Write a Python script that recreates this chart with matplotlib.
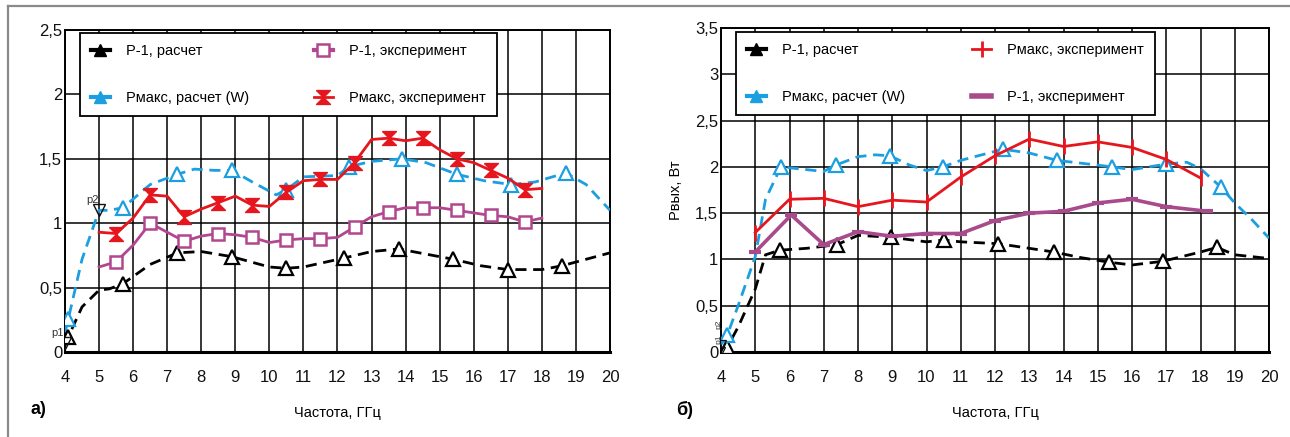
import numpy as np
import matplotlib
matplotlib.use('Agg')
import matplotlib.pyplot as plt
from matplotlib.lines import Line2D

# ─────────────────────────────────────────────
# fonts
# ─────────────────────────────────────────────
plt.rcParams['font.family'] = ['Liberation Sans', 'DejaVu Sans']
plt.rcParams['axes.unicode_minus'] = False

# ─────────────────────────────────────────────
# data, panel а)
# ─────────────────────────────────────────────
a_p1_calc_x = [4.0, 4.1, 4.5, 5.0, 5.3, 5.7, 6.5, 7.3, 8.0, 8.9, 10.0, 10.5, 11.0,
               12.2, 13.0, 13.8, 15.4, 16.2, 17.0, 18.0, 18.6, 19.3, 20.0]
a_p1_calc_y = [0.05, 0.12, 0.35, 0.48, 0.49, 0.53, 0.68, 0.77, 0.78, 0.74, 0.66, 0.65, 0.66,
               0.73, 0.78, 0.80, 0.72, 0.67, 0.64, 0.64, 0.67, 0.72, 0.77]
a_p1_calc_mx = [4.1, 5.7, 7.3, 8.9, 10.5, 12.2, 13.8, 15.4, 17.0, 18.6]
a_p1_calc_my = [0.12, 0.53, 0.77, 0.74, 0.65, 0.73, 0.80, 0.72, 0.64, 0.67]

a_pmax_calc_x = [4.0, 4.1, 4.5, 5.0, 5.3, 5.7, 6.5, 7.3, 7.8, 8.4, 8.9, 9.5, 10.2, 10.5,
                 11.0, 12.0, 12.35, 13.0, 13.9, 14.6, 15.5, 16.3, 17.1, 17.8, 18.7, 19.3, 20.0]
a_pmax_calc_y = [0.15, 0.26, 0.72, 1.10, 1.10, 1.12, 1.30, 1.38, 1.42, 1.41, 1.41, 1.32, 1.22, 1.26,
                 1.36, 1.37, 1.44, 1.48, 1.50, 1.47, 1.38, 1.33, 1.30, 1.32, 1.39, 1.30, 1.10]
a_pmax_calc_mx = [4.1, 5.7, 7.3, 8.9, 10.5, 12.35, 13.9, 15.5, 17.1, 18.7]
a_pmax_calc_my = [0.26, 1.12, 1.38, 1.41, 1.26, 1.44, 1.50, 1.38, 1.30, 1.39]

a_exp_x = [5.0, 5.5, 6.0, 6.5, 7.0, 7.5, 8.0, 8.5, 9.0, 9.5, 10.0, 10.5, 11.0, 11.5,
           12.0, 12.5, 13.0, 13.5, 14.0, 14.5, 15.0, 15.5, 16.0, 16.5, 17.0, 17.5, 18.0]
a_pmax_exp_y = [0.93, 0.92, 1.04, 1.22, 1.21, 1.05, 1.11, 1.16, 1.21, 1.14, 1.13, 1.24, 1.33, 1.34,
                1.34, 1.47, 1.65, 1.66, 1.64, 1.66, 1.57, 1.50, 1.47, 1.41, 1.35, 1.26, 1.27]
a_p1_exp_y = [0.66, 0.70, 0.83, 1.00, 0.93, 0.86, 0.90, 0.92, 0.91, 0.89, 0.85, 0.87, 0.88, 0.88,
              0.89, 0.97, 1.05, 1.09, 1.12, 1.12, 1.12, 1.10, 1.08, 1.06, 1.05, 1.01, 1.04]

a_yticks = [0, 0.5, 1, 1.5, 2, 2.5]
a_yticklabels = ['0', '0,5', '1', '1,5', '2', '2,5']

# ─────────────────────────────────────────────
# data, panel б)
# ─────────────────────────────────────────────
b_p1_calc_x = [4.0, 4.18, 4.5, 5.0, 5.3, 5.72, 6.5, 7.39, 8.0, 8.96, 10.0, 10.5, 11.0, 12.1,
               13.0, 13.72, 14.5, 15.33, 16.0, 16.9, 18.0, 18.48, 19.0, 20.0]
b_p1_calc_y = [0.0, 0.05, 0.27, 0.68, 1.05, 1.10, 1.12, 1.16, 1.26, 1.24, 1.19, 1.21, 1.19, 1.17,
               1.12, 1.08, 1.02, 0.97, 0.94, 0.98, 1.08, 1.13, 1.05, 1.01]
b_p1_calc_mx = [4.18, 5.72, 7.39, 8.96, 10.5, 12.1, 13.72, 15.33, 16.9, 18.48]
b_p1_calc_my = [0.05, 1.10, 1.16, 1.24, 1.21, 1.17, 1.08, 0.97, 0.98, 1.13]

b_pmax_calc_x = [4.0, 4.18, 4.5, 5.0, 5.3, 5.75, 6.5, 7.0, 7.36, 8.0, 8.5, 8.93, 9.5, 10.0,
                 10.48, 11.0, 12.23, 13.0, 13.81, 14.5, 15.42, 16.0, 17.0, 17.6, 18.0, 18.6,
                 19.0, 19.5, 20.0]
b_pmax_calc_y = [0.08, 0.18, 0.50, 1.03, 1.65, 2.00, 1.97, 1.95, 2.02, 2.11, 2.13, 2.12, 2.02, 1.96,
                 2.00, 2.07, 2.19, 2.15, 2.07, 2.04, 2.00, 1.97, 2.03, 2.05, 1.98, 1.78,
                 1.61, 1.43, 1.23]
b_pmax_calc_mx = [4.18, 5.75, 7.36, 8.93, 10.48, 12.23, 13.81, 15.42, 17.0, 18.6]
b_pmax_calc_my = [0.18, 2.00, 2.02, 2.12, 2.00, 2.19, 2.07, 2.00, 2.03, 1.78]

b_pmax_exp_x = [5.0, 6.0, 7.0, 8.0, 9.0, 10.0, 11.0, 12.0, 13.0, 14.0, 15.0, 16.0, 17.0, 18.0]
b_pmax_exp_y = [1.29, 1.65, 1.66, 1.57, 1.64, 1.62, 1.89, 2.12, 2.30, 2.22, 2.27, 2.21, 2.08, 1.88]

b_p1_exp_x = [5.0, 6.05, 7.0, 8.0, 9.0, 10.0, 11.0, 12.0, 13.0, 14.0, 15.0, 16.0, 17.0, 18.2]
b_p1_exp_y = [1.08, 1.48, 1.16, 1.30, 1.25, 1.28, 1.28, 1.42, 1.50, 1.52, 1.61, 1.65, 1.57, 1.52]

b_yticks = [0, 0.5, 1, 1.5, 2, 2.5, 3, 3.5]
b_yticklabels = ['0', '0,5', '1', '1,5', '2', '2,5', '3', '3,5']

xticks = list(range(4, 21))

# ─────────────────────────────────────────────
# colours / styles
# ─────────────────────────────────────────────
c_black = '#000000'
c_blue = '#1C9FE0'
c_red = '#E5161E'
c_pink = '#B2468F'
c_purple = '#A84A8C'

hourglass = [(-1, 1), (1, 1), (-1, -1), (1, -1), (-1, 1)]
dash = (4, 2.4)

# ─────────────────────────────────────────────
# figure
# ─────────────────────────────────────────────
fig = plt.figure(figsize=(12.9, 4.37), dpi=100)
ax1 = fig.add_axes([65 / 1290, 1 - 352 / 437, 545 / 1290, 322 / 437])
ax2 = fig.add_axes([721 / 1290, 1 - 352 / 437, 548 / 1290, 324 / 437])

# outer frame (top and left only)
fig.add_artist(Line2D([8 / 1290, 8 / 1290], [0, 1 - 6 / 437],
                      transform=fig.transFigure, color='#8A8A8A', lw=1.6))
fig.add_artist(Line2D([8 / 1290, 1], [1 - 6 / 437, 1 - 6 / 437],
                      transform=fig.transFigure, color='#8A8A8A', lw=1.6))


def style_axes(ax, ymax, yticks, yticklabels):
    ax.set_xlim(4, 20)
    ax.set_ylim(0, ymax)
    ax.set_xticks(xticks)
    ax.set_yticks(yticks)
    ax.set_yticklabels(yticklabels)
    ax.grid(True, color='black', lw=1.1)
    ax.set_axisbelow(True)
    ax.tick_params(axis='both', length=0, labelsize=12, colors='#111111')
    ax.tick_params(axis='x', pad=13)
    ax.tick_params(axis='y', pad=2)
    for s in ax.spines.values():
        s.set_linewidth(1.4)
    ax.spines['bottom'].set_linewidth(2.2)
    ax.set_xlabel('Частота, ГГц', fontsize=10.5, labelpad=15)


legend_kw = dict(ncol=2, loc='upper left', borderaxespad=0, fontsize=10.5,
                 labelspacing=2.3, handlelength=1.3, handletextpad=1.1,
                 borderpad=0.75, fancybox=False, framealpha=1, edgecolor='black')

# ─────────────────────────────────────────────
# panel а)
# ─────────────────────────────────────────────
style_axes(ax1, 2.5, a_yticks, a_yticklabels)

ax1.plot(a_p1_calc_x, a_p1_calc_y, color=c_black, lw=2.0, dashes=dash, zorder=3)
ax1.plot(a_p1_calc_mx, a_p1_calc_my, ls='none', marker='^', ms=10, mfc='white',
         mec=c_black, mew=1.6, zorder=4)

ax1.plot(a_pmax_calc_x, a_pmax_calc_y, color=c_blue, lw=2.0, dashes=dash, zorder=3)
ax1.plot(a_pmax_calc_mx, a_pmax_calc_my, ls='none', marker='^', ms=10, mfc='white',
         mec=c_blue, mew=1.6, zorder=4)

ax1.plot(a_exp_x, a_p1_exp_y, color=c_pink, lw=2.0, marker='s', ms=8, mfc='white',
         mec=c_pink, mew=1.8, markevery=slice(1, None, 2), zorder=5)
ax1.plot(a_exp_x, a_pmax_exp_y, color=c_red, lw=2.0, marker=hourglass, ms=10, mfc=c_red,
         mec=c_red, mew=1.0, markevery=slice(1, None, 2), zorder=5)

# p1 / p2 points
ax1.plot([4.0, 5.0], [0.07, 1.10], ls='none', marker='v', ms=8, mfc='none',
         mec='#111111', mew=1.0, zorder=6)
ax1.text(3.78, 0.15, 'p1', fontsize=8, color='#333333', ha='center', va='center')
ax1.text(4.8, 1.18, 'p2', fontsize=8, color='#333333', ha='center', va='center')

h_a = [
    Line2D([], [], color=c_black, lw=3, marker='^', ms=9, mfc=c_black, mec=c_black),
    Line2D([], [], color=c_blue, lw=3, marker='^', ms=9, mfc=c_blue, mec=c_blue),
    Line2D([], [], color=c_pink, lw=3, marker='s', ms=8, mfc='white', mec=c_pink, mew=1.8),
    Line2D([], [], color=c_red, lw=2, marker=hourglass, ms=10, mfc=c_red, mec=c_red),
]
l_a = ['Р-1, расчет', 'Рмакс, расчет (W)', 'Р-1, эксперимент', 'Рмакс, эксперимент']
leg = ax1.legend(h_a, l_a, bbox_to_anchor=(15 / 545, 319 / 322), columnspacing=4.45,
                 **legend_kw)
leg.get_frame().set_linewidth(1.3)

fig.text(38 / 1290, 1 - 410 / 437, 'а)', fontsize=13, fontweight='bold',
         ha='center', va='center')

# ─────────────────────────────────────────────
# panel б)
# ─────────────────────────────────────────────
style_axes(ax2, 3.5, b_yticks, b_yticklabels)
ax2.set_ylabel('Рвых, Вт', fontsize=10.5, labelpad=9)

ax2.plot(b_p1_calc_x, b_p1_calc_y, color=c_black, lw=2.0, dashes=dash, zorder=3)
ax2.plot(b_p1_calc_mx, b_p1_calc_my, ls='none', marker='^', ms=10, mfc='white',
         mec=c_black, mew=1.6, zorder=4)

ax2.plot(b_pmax_calc_x, b_pmax_calc_y, color=c_blue, lw=2.0, dashes=dash, zorder=3)
ax2.plot(b_pmax_calc_mx, b_pmax_calc_my, ls='none', marker='^', ms=10, mfc='white',
         mec=c_blue, mew=1.6, zorder=4)

ax2.plot(b_p1_exp_x, b_p1_exp_y, color=c_purple, lw=2.6, marker='_', ms=9, mew=3.0,
         zorder=5)
ax2.plot(b_pmax_exp_x, b_pmax_exp_y, color=c_red, lw=2.0, marker='|', ms=11, mew=2.0,
         zorder=5)

ax2.plot([4.0, 4.02], [0.01, 0.09], ls='none', marker='v', ms=6, mfc='none',
         mec='#111111', mew=0.9, zorder=6)
ax2.text(3.93, 0.30, 'p2', fontsize=6, color='#333333', rotation=90, ha='center', va='center')
ax2.text(3.93, 0.14, 'p1', fontsize=6, color='#333333', rotation=90, ha='center', va='center')

h_b = [
    Line2D([], [], color=c_black, lw=3, marker='^', ms=9, mfc=c_black, mec=c_black),
    Line2D([], [], color=c_blue, lw=3, marker='^', ms=9, mfc=c_blue, mec=c_blue),
    Line2D([], [], color=c_red, lw=2, marker='|', ms=11, mew=2.0),
    Line2D([], [], color=c_purple, lw=4),
]
l_b = ['Р-1, расчет', 'Рмакс, расчет (W)', 'Рмакс, эксперимент', 'Р-1, эксперимент']
leg = ax2.legend(h_b, l_b, bbox_to_anchor=(15 / 548, 320 / 324), columnspacing=4.6,
                 **legend_kw)
leg.get_frame().set_linewidth(1.3)

fig.text(685 / 1290, 1 - 410 / 437, 'б)', fontsize=13, fontweight='bold',
         ha='center', va='center')

fig.savefig('out.png', dpi=100, facecolor='white')
